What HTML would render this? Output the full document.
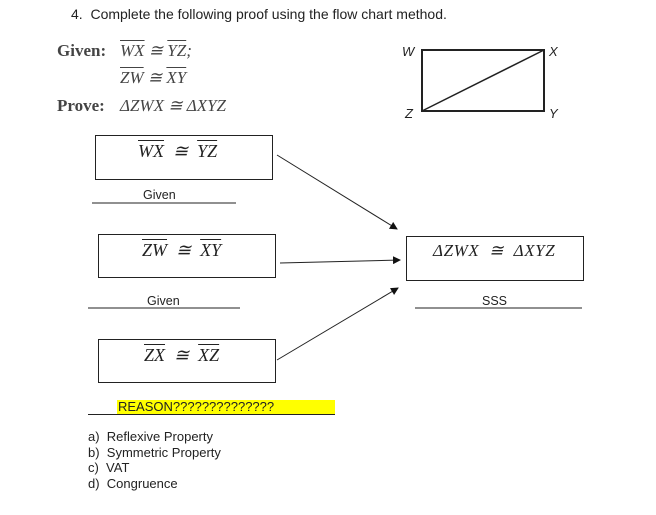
<!DOCTYPE html>
<html><head><style>
body{margin:0;background:#fff;width:656px;height:515px;overflow:hidden;position:relative;font-family:"Liberation Sans",sans-serif;}
.t{position:absolute;white-space:nowrap;}
.m{font-family:"Liberation Serif",serif;font-style:italic;color:#444;}
.ov{text-decoration:overline;}
.box{position:absolute;border:1px solid #222;box-sizing:border-box;}
</style></head><body>
<div class="t" style="left:71px;top:6px;font-size:14px;color:#222">4.&nbsp; Complete the following proof using the flow chart method.</div>
<div class="t" style="left:57px;top:41px;font-family:'Liberation Serif',serif;font-weight:bold;font-size:17px;color:#444">Given:</div>
<div class="t m" style="left:120px;top:41px;font-size:17px"><span class="ov">WX</span> ≅ <span class="ov">YZ</span>;</div>
<div class="t m" style="left:120px;top:68px;font-size:17px"><span class="ov">ZW</span> ≅ <span class="ov">XY</span></div>
<div class="t" style="left:57px;top:96px;font-family:'Liberation Serif',serif;font-weight:bold;font-size:17px;color:#444">Prove:</div>
<div class="t m" style="left:120px;top:96px;font-size:17px">ΔZWX ≅ ΔXYZ</div>

<svg style="position:absolute;left:0;top:0" width="656" height="515">
<defs><marker id="a" markerWidth="8" markerHeight="8" refX="7" refY="4" orient="auto" markerUnits="userSpaceOnUse"><path d="M0,0 L8,4 L0,8z" fill="#111"/></marker></defs>
<rect x="422" y="50" width="122" height="61" fill="none" stroke="#222" stroke-width="2"/>
<line x1="422" y1="111" x2="544" y2="50" stroke="#222" stroke-width="1.5"/>
<text x="402" y="56" font-family="Liberation Sans" font-style="italic" font-size="13" fill="#222">W</text>
<text x="549" y="56" font-family="Liberation Sans" font-style="italic" font-size="13" fill="#222">X</text>
<text x="405" y="118" font-family="Liberation Sans" font-style="italic" font-size="13" fill="#222">Z</text>
<text x="549" y="118" font-family="Liberation Sans" font-style="italic" font-size="13" fill="#222">Y</text>
<line x1="277" y1="155" x2="397" y2="229" stroke="#222" marker-end="url(#a)"/>
<line x1="280" y1="263" x2="400" y2="260" stroke="#222" marker-end="url(#a)"/>
<line x1="277" y1="360" x2="398" y2="288" stroke="#222" marker-end="url(#a)"/>
<line x1="92" y1="203" x2="236" y2="203" stroke="#222"/>
<line x1="88" y1="308" x2="240" y2="308" stroke="#222"/>
<line x1="415" y1="308" x2="582" y2="308" stroke="#222"/>
<rect x="117" y="400" width="218" height="14" fill="#ffff00"/>
<line x1="88" y1="414.5" x2="335" y2="414.5" stroke="#222"/>
</svg>

<div class="box" style="left:95px;top:135px;width:178px;height:45px"></div>
<div class="t m" style="left:138px;top:141px;font-size:18px;color:#222"><span class="ov">WX</span> &nbsp;≅ &nbsp;<span class="ov">YZ</span></div>
<div class="t" style="left:143px;top:188px;font-size:12.5px;color:#222">Given</div>
<div class="box" style="left:98px;top:234px;width:178px;height:44px"></div>
<div class="t m" style="left:142px;top:240px;font-size:18px;color:#222"><span class="ov">ZW</span> &nbsp;≅ &nbsp;<span class="ov">XY</span></div>
<div class="t" style="left:147px;top:294px;font-size:12.5px;color:#222">Given</div>
<div class="box" style="left:98px;top:339px;width:178px;height:44px"></div>
<div class="t m" style="left:144px;top:345px;font-size:18px;color:#222"><span class="ov">ZX</span> &nbsp;≅ &nbsp;<span class="ov">XZ</span></div>
<div class="t" style="left:118px;top:399px;font-size:13px;color:#222">REASON??????????????</div>
<div class="box" style="left:406px;top:236px;width:178px;height:45px"></div>
<div class="t m" style="left:433px;top:241px;font-size:17px;color:#222;letter-spacing:0.6px">ΔZWX &nbsp;≅ &nbsp;ΔXYZ</div>
<div class="t" style="left:482px;top:294px;font-size:12.5px;color:#222">SSS</div>
<div class="t" style="left:88px;top:429px;font-size:13px;line-height:15.5px;color:#222">a)&nbsp; Reflexive Property<br>b)&nbsp; Symmetric Property<br>c)&nbsp; VAT<br>d)&nbsp; Congruence</div>
</body></html>
